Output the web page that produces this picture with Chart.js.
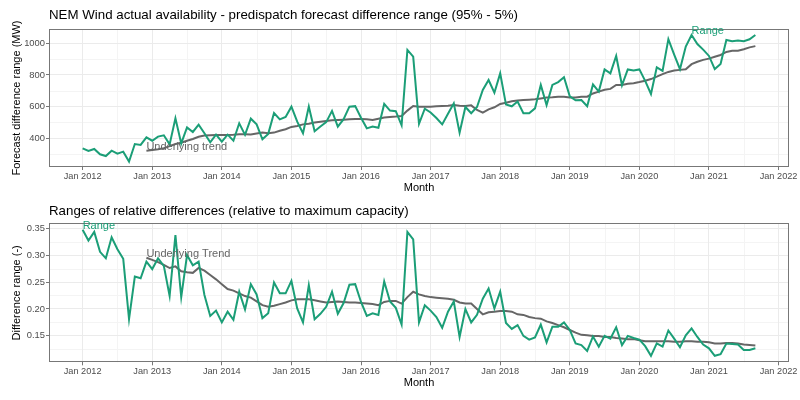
<!DOCTYPE html>
<html><head><meta charset="utf-8">
<script src="https://cdn.jsdelivr.net/npm/chart.js@4.4.1/dist/chart.umd.min.js"></script>
<style>
html,body{margin:0;padding:0;background:#fff;}
#wrap{position:relative;width:800px;height:400px;overflow:hidden;}
canvas{position:absolute;left:0;}
</style></head><body>
<div id="wrap">
<canvas id="c1" width="800" height="200" style="top:0"></canvas>
<canvas id="c2" width="800" height="200" style="top:200px"></canvas>
</div>
<script>
const months = [
"2012-01","2012-02","2012-03","2012-04","2012-05","2012-06","2012-07","2012-08","2012-09","2012-10","2012-11","2012-12",
"2013-01","2013-02","2013-03","2013-04","2013-05","2013-06","2013-07","2013-08","2013-09","2013-10","2013-11","2013-12",
"2014-01","2014-02","2014-03","2014-04","2014-05","2014-06","2014-07","2014-08","2014-09","2014-10","2014-11","2014-12",
"2015-01","2015-02","2015-03","2015-04","2015-05","2015-06","2015-07","2015-08","2015-09","2015-10","2015-11","2015-12",
"2016-01","2016-02","2016-03","2016-04","2016-05","2016-06","2016-07","2016-08","2016-09","2016-10","2016-11","2016-12",
"2017-01","2017-02","2017-03","2017-04","2017-05","2017-06","2017-07","2017-08","2017-09","2017-10","2017-11","2017-12",
"2018-01","2018-02","2018-03","2018-04","2018-05","2018-06","2018-07","2018-08","2018-09","2018-10","2018-11","2018-12",
"2019-01","2019-02","2019-03","2019-04","2019-05","2019-06","2019-07","2019-08","2019-09","2019-10","2019-11","2019-12",
"2020-01","2020-02","2020-03","2020-04","2020-05","2020-06","2020-07","2020-08","2020-09","2020-10","2020-11","2020-12",
"2021-01","2021-02","2021-03","2021-04","2021-05","2021-06","2021-07","2021-08","2021-09"
];

const rangeMW = [
337,320,333,299,288,322,303,316,253,364,358,406,
385,411,419,362,526,368,469,440,486,432,375,423,
379,423,385,495,422,524,488,394,428,560,520,535,
600,505,432,600,445,475,502,573,474,521,600,603,
530,463,475,467,617,575,571,482,958,916,492,587,
563,528,488,555,621,436,598,558,598,705,768,688,
810,613,602,632,558,558,589,737,610,737,755,785,
665,640,642,603,740,695,835,810,920,735,835,828,
835,763,680,848,826,1026,928,836,979,1052,995,960,
920,837,869,1021,1013,1017,1013,1025,1052
];

const trendMW = [
null,null,null,null,null,null,null,null,null,null,null,322,
326,331,337,351,364,372,385,396,410,418,420,421,
421,421,422,425,426,424,431,436,432,436,448,457,
472,478,488,492,500,505,510,514,516,518,520,522,
522,520,516,524,531,534,537,541,575,604,600,600,
600,602,604,606,610,606,604,608,579,562,583,596,
617,625,634,638,642,644,646,652,657,659,662,663,
657,657,662,663,683,695,706,712,737,737,744,748,
755,763,774,789,805,819,828,832,836,868,883,895,
903,915,926,945,953,953,962,974,982
];

const rangeRel = [
0.347,0.327,0.343,0.306,0.294,0.333,0.311,0.293,0.181,0.260,0.257,0.288,
0.274,0.294,0.280,0.224,0.337,0.222,0.300,0.281,0.288,0.226,0.187,0.197,
0.175,0.195,0.180,0.232,0.199,0.246,0.227,0.183,0.192,0.249,0.229,0.229,
0.252,0.201,0.175,0.244,0.181,0.191,0.204,0.232,0.191,0.211,0.245,0.246,
0.213,0.187,0.192,0.189,0.251,0.214,0.202,0.171,0.343,0.329,0.175,0.207,
0.197,0.185,0.165,0.195,0.214,0.148,0.200,0.175,0.189,0.219,0.238,0.201,
0.232,0.174,0.163,0.170,0.150,0.143,0.147,0.171,0.138,0.167,0.167,0.175,
0.161,0.136,0.133,0.122,0.149,0.130,0.150,0.145,0.166,0.133,0.150,0.146,
0.143,0.131,0.113,0.136,0.130,0.160,0.145,0.129,0.151,0.164,0.148,0.134,
0.127,0.113,0.116,0.136,0.135,0.134,0.124,0.124,0.127
];

const trendRel = [
null,null,null,null,null,null,null,null,null,null,null,0.295,
0.291,0.287,0.282,0.276,0.279,0.270,0.268,0.267,0.276,0.271,0.263,0.255,
0.246,0.237,0.234,0.229,0.224,0.221,0.214,0.207,0.204,0.206,0.209,0.212,
0.216,0.218,0.218,0.218,0.216,0.214,0.212,0.213,0.214,0.213,0.212,0.212,
0.211,0.210,0.209,0.207,0.213,0.215,0.215,0.210,0.222,0.232,0.227,0.224,
0.222,0.221,0.220,0.219,0.217,0.212,0.210,0.210,0.200,0.190,0.194,0.195,
0.196,0.196,0.195,0.190,0.189,0.185,0.183,0.182,0.177,0.174,0.170,0.166,
0.161,0.156,0.152,0.151,0.150,0.150,0.148,0.148,0.146,0.145,0.144,0.144,
0.142,0.140,0.140,0.140,0.140,0.140,0.139,0.139,0.140,0.140,0.139,0.139,
0.138,0.136,0.136,0.137,0.137,0.136,0.134,0.133,0.132
];

const xTickValues = [0,12,24,36,48,60,72,84,96,108,120];
const xTickLabels = ["Jan 2012","Jan 2013","Jan 2014","Jan 2015","Jan 2016","Jan 2017","Jan 2018","Jan 2019","Jan 2020","Jan 2021","Jan 2022"];
const yTicksMW = [400,600,800,1000];
const yTickLabelsMW = ["400","600","800","1000"];
const yTicksRel = [0.15,0.20,0.25,0.30,0.35];
const yTickLabelsRel = ["0.15","0.20","0.25","0.30","0.35"];

const GREEN = '#1b9e77';
const GREY = '#666666';
const FONT = "'Liberation Sans', Arial, Helvetica, sans-serif";
Chart.defaults.font.family = FONT;

function monthX(m){ const [y,mm] = m.split('-').map(Number); return (y-2012)*12 + (mm-1); }
function pts(vals){ return vals.map((v,i)=>({x:monthX(months[i]), y:v})); }

function makeChart(id, cfg){
  const panelPlugin = {
    id:'panel',
    beforeDraw(chart){
      const {ctx, chartArea:a, scales} = chart;
      ctx.save();
      ctx.fillStyle='#fff'; ctx.fillRect(0,0,chart.width,chart.height);
      ctx.strokeStyle='#f4f4f4'; ctx.lineWidth=1;
      const xs = cfg.xTicks;
      const stepX = xs[1]-xs[0];
      for(let v = xs[0]-stepX/2; v <= xs[xs.length-1]+stepX/2; v += stepX){
        const p = scales.x.getPixelForValue(v);
        if(p>a.left && p<a.right){ ctx.beginPath(); ctx.moveTo(Math.round(p)+0.5,a.top); ctx.lineTo(Math.round(p)+0.5,a.bottom); ctx.stroke(); }
      }
      const ys = cfg.yTicks;
      const stepY = ys[1]-ys[0];
      for(let k=-1;k<=ys.length;k++){
        const v = ys[0] + stepY*(k+0.5);
        const p = scales.y.getPixelForValue(v);
        if(p>a.top && p<a.bottom){ ctx.beginPath(); ctx.moveTo(a.left,Math.round(p)+0.5); ctx.lineTo(a.right,Math.round(p)+0.5); ctx.stroke(); }
      }
      ctx.restore();
    },
    afterDatasetsDraw(chart){
      const {ctx, chartArea:a, scales} = chart;
      ctx.save();
      ctx.strokeStyle='#777'; ctx.lineWidth=1;
      ctx.strokeRect(Math.round(a.left)+0.5, Math.round(a.top)+0.5, Math.round(a.right-a.left)-1, Math.round(a.bottom-a.top)-1);
      ctx.font = "11px "+FONT;
      ctx.textAlign='left'; ctx.textBaseline='middle';
      for(const lab of cfg.labels){
        const px = scales.x.getPixelForValue(monthX(months[lab.idx]));
        const py = scales.y.getPixelForValue(lab.series[lab.idx]);
        ctx.fillStyle = lab.color;
        ctx.fillText(lab.text, px, py-4);
      }
      ctx.fillStyle='#000';
      ctx.font = "13.3px "+FONT;
      ctx.fillText(cfg.title, a.left, cfg.titleY);
      ctx.restore();
    }
  };
  return new Chart(document.getElementById(id), {
    type:'line',
    data:{ datasets:[
      {data:pts(cfg.range), borderColor:GREEN, borderWidth:2, pointRadius:0, tension:0, fill:false},
      {data:pts(cfg.trend), borderColor:GREY, borderWidth:2, pointRadius:0, tension:0, fill:false, spanGaps:false}
    ]},
    options:{
      responsive:false, animation:false, devicePixelRatio:1,
      layout:{padding:{left:0,right:11,top:cfg.padTop,bottom:0}},
      plugins:{legend:{display:false}, tooltip:{enabled:false}, title:{display:false}},
      scales:{
        x:{type:'linear', min:-5.8, max:121.8,
          afterBuildTicks:s=>{ s.ticks = cfg.xTicks.map(v=>({value:v})); },
          afterFit:s=>{ s.height = cfg.xHeight; },
          ticks:{autoSkip:false, maxRotation:0, color:'#4d4d4d', font:{size:9.2}, padding:cfg.xTickPad,
            callback:(v,i)=>xTickLabels[i]},
          grid:{color:'#ebebeb', lineWidth:1, tickLength:3, tickColor:'#777', drawTicks:true},
          border:{display:false},
          title:{display:true, text:'Month', color:'#000', font:{size:11}, padding:{top:0,bottom:cfg.xTitlePad}}
        },
        y:{type:'linear', min:cfg.yMin, max:cfg.yMax,
          afterBuildTicks:s=>{ s.ticks = cfg.yTicks.map(v=>({value:v})); },
          afterFit:s=>{ s.width = 49; },
          ticks:{color:'#4d4d4d', font:{size:9.4}, padding:1, callback:(v,i)=>cfg.yLabels[i]},
          grid:{color:'#ebebeb', lineWidth:1, tickLength:3, tickColor:'#777', drawTicks:true},
          border:{display:false},
          title:{display:true, text:cfg.yTitle, color:'#000', font:{size:11}, padding:{top:10,bottom:0}}
        }
      }
    },
    plugins:[panelPlugin]
  });
}

makeChart('c1', {
  range:rangeMW, trend:trendMW, xTicks:xTickValues, yTicks:yTicksMW, yLabels:yTickLabelsMW,
  yMin:219, yMax:1090, padTop:29, xHeight:33, xTickPad:1.2, xTitlePad:5.4,
  yTitle:'Forecast difference range (MW)',
  title:'NEM Wind actual availability - predispatch forecast difference range (95% - 5%)', titleY:15.7,
  labels:[{text:'Range', idx:105, series:rangeMW, color:GREEN},{text:'Underlying trend', idx:11, series:trendMW, color:GREY}]
});
makeChart('c2', {
  range:rangeRel, trend:trendRel, xTicks:xTickValues, yTicks:yTicksRel, yLabels:yTickLabelsRel,
  yMin:0.101, yMax:0.359, padTop:23.3, xHeight:37.7, xTickPad:0.4, xTitlePad:10.7,
  yTitle:'Difference range (-)',
  title:'Ranges of relative differences (relative to maximum capacity)', titleY:11.7,
  labels:[{text:'Range', idx:0, series:rangeRel, color:GREEN},{text:'Underlying Trend', idx:11, series:trendRel, color:GREY}]
});
</script>
</body></html>
